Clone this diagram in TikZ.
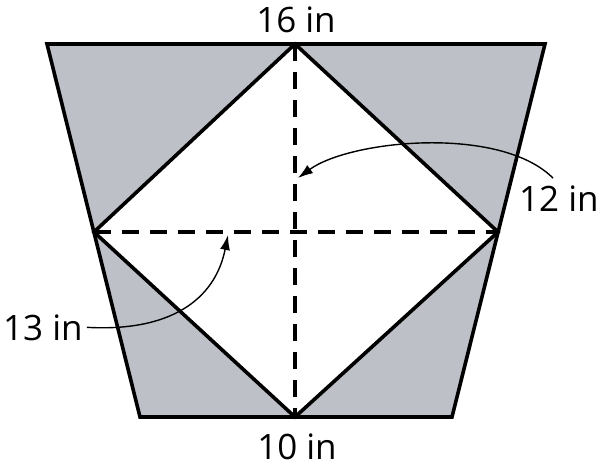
\documentclass[tikz,border=0pt]{standalone}
\usepackage{fontspec}
\setmainfont{Open Sans}
\usetikzlibrary{arrows.meta}
\definecolor{graybg}{RGB}{190,192,199}
\tikzset{
  edge/.style={line width=3.6pt, line join=miter},
  dashline/.style={line width=3.6pt, dash pattern=on 17pt off 11pt},
  pointer/.style={line width=1.4pt, -{Latex[length=15pt,width=10pt]}},
  lbl/.style={font=\fontsize{35}{40}\selectfont, inner sep=0pt}
}
\begin{document}
\begin{tikzpicture}[x=1pt,y=-1pt]
\useasboundingbox (0,0) rectangle (603,474);
\coordinate (TL) at (47,44);
\coordinate (TR) at (545,44);
\coordinate (BR) at (452,417);
\coordinate (BL) at (140,417);
\coordinate (T) at (295,44);
\coordinate (L) at (94,232);
\coordinate (R) at (498,232);
\coordinate (B) at (295,417);
\fill[fill=graybg] (TL) -- (TR) -- (BR) -- (BL) -- cycle;
\fill[white] (T) -- (R) -- (B) -- (L) -- cycle;
\draw[edge] (T) -- (R) -- (B) -- (L) -- cycle;
\draw[dashline] (L) -- (R);
\draw[dashline] (T) -- (B);
\draw[edge] (TL) -- (TR) -- (BR) -- (BL) -- cycle;
\node[lbl, anchor=base] (l16) at (296,32) {16 in};
\node[lbl, anchor=base] (l10) at (297,459) {10 in};
\node[lbl, anchor=base west] (l12) at (519,211) {12 in};
\node[lbl, anchor=base west] (l13) at (3,340) {13 in};
\coordinate (a12) at (298,178);
\coordinate (a13) at (228,235);
\draw[pointer] (l12.north west) ++(34,-7) .. controls (500,125) and (350,140) .. (a12);
\draw[pointer] (l13.east) ++(4,0) .. controls (170,332) and (215,300) .. (a13);
\end{tikzpicture}
\end{document}
